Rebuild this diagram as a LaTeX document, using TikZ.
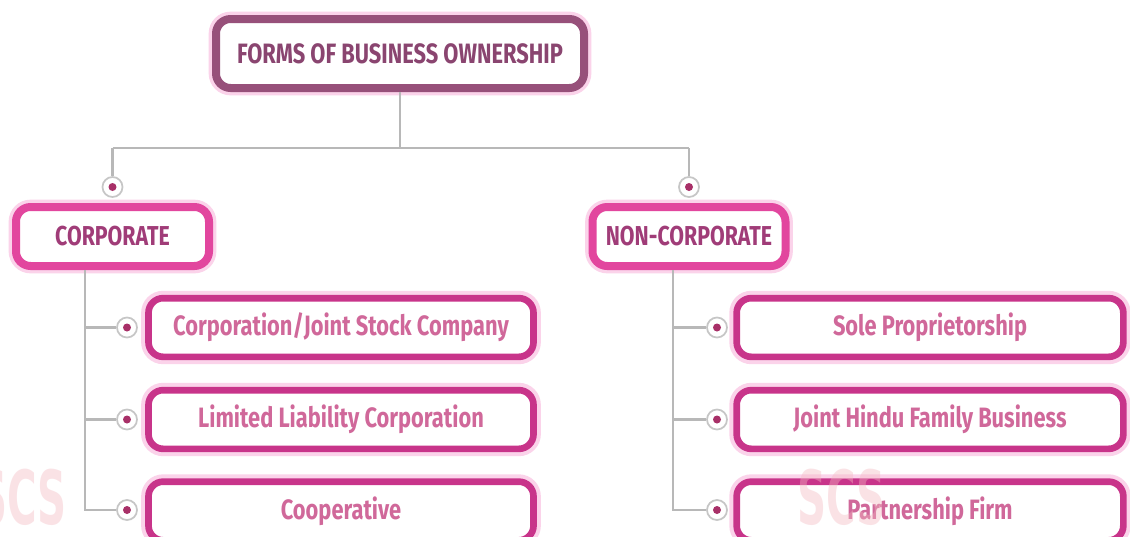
\documentclass[tikz,border=0pt]{standalone}
\usepackage{fontspec}
\newfontfamily\labelfont[FakeStretch=0.78]{Fira Sans Bold}
\newfontfamily\wmfont[FakeStretch=0.6]{DejaVu Sans Condensed Bold}
\definecolor{topborder}{HTML}{97507A}
\definecolor{toptext}{HTML}{8A4570}
\definecolor{midborder}{HTML}{E2469E}
\definecolor{midtext}{HTML}{A03C78}
\definecolor{leafborder}{HTML}{C8348A}
\definecolor{leaftext}{HTML}{D0689A}
\definecolor{glow}{HTML}{FBD3EA}
\definecolor{linegray}{HTML}{B8B8B8}
\definecolor{dotred}{HTML}{A83068}
\definecolor{wmpink}{HTML}{F4B8C0}
\tikzset{
  boxbase/.style={rounded corners=11pt, fill=white, align=center, inner sep=0pt},
  topbox/.style={boxbase, draw=topborder, line width=6pt, minimum width=276pt, minimum height=51.75pt,
     font=\labelfont\fontsize{21}{24}\selectfont, text=toptext},
  midbox/.style={boxbase, draw=midborder, line width=6pt, minimum width=144.75pt, minimum height=44.25pt,
     font=\labelfont\fontsize{20.5}{24}\selectfont, text=midtext},
  leafbox/.style={boxbase, draw=leafborder, line width=5pt, minimum width=288.75pt, minimum height=44pt,
     font=\labelfont\fontsize{21}{24}\selectfont, text=leaftext},
  glowbox/.style={preaction={draw=glow, line width=11pt, rounded corners=11pt}},
  conn/.style={draw=linegray, line width=1.6pt},
  ring/.style={circle, draw=linegray!80, line width=1.3pt, fill=white, minimum size=15pt, inner sep=0pt,
     path picture={\fill[dotred] (path picture bounding box.center) circle (3pt);}},
  wm/.style={font=\wmfont\fontsize{56}{56}\selectfont, text=wmpink, opacity=0.4, inner sep=0pt}
}
\begin{document}
\begin{tikzpicture}[x=0.75pt,y=-0.75pt]
\useasboundingbox (0,0) rectangle (1130,536);
\clip (0,0) rectangle (1130,536);
\fill[white] (0,0) rectangle (1130,536);

% boxes
\node[topbox, glowbox] (top) at (400,53.5) {FORMS OF BUSINESS OWNERSHIP};
\node[midbox, glowbox] (corp) at (112.5,236.5) {CORPORATE};
\node[midbox, glowbox] (noncorp) at (689,236.5) {NON-CORPORATE};

\node[leafbox, glowbox] (c1) at (341,327.5) {Corporation/Joint Stock Company};
\node[leafbox, glowbox] (c2) at (341,419.5) {Limited Liability Corporation};
\node[leafbox, glowbox] (c3) at (341,511) {Cooperative};

\node[leafbox, glowbox, minimum width=290pt] (n1) at (930,327.5) {Sole Proprietorship};
\node[leafbox, glowbox, minimum width=290pt] (n2) at (930,419.5) {Joint Hindu Family Business};
\node[leafbox, glowbox, minimum width=290pt] (n3) at (930,511) {Partnership Firm};

% rings
\node[ring] (rc) at (112.5,187) {};
\node[ring] (rn) at (689,187) {};
\node[ring] (r1) at (127,327.5) {};
\node[ring] (r2) at (127,419.5) {};
\node[ring] (r3) at (127,510) {};
\node[ring] (s1) at (717,327.5) {};
\node[ring] (s2) at (717,419.5) {};
\node[ring] (s3) at (717,510) {};

% junction coordinates
\coordinate (hj) at (400,148);
\coordinate (hl) at (112.5,148);
\coordinate (hr) at (689,148);
\coordinate (lv) at (85,270);
\coordinate (rv) at (673,270);

\draw[conn] (top.south) -- (hj);
\draw[conn] (hl) -- (hr);
\draw[conn] (hl) -- (rc.north);
\draw[conn] (hr) -- (rn.north);

\draw[conn] (lv) -- (lv |- r3) -- (r3.west);
\draw[conn] (lv |- r1) -- (r1.west);
\draw[conn] (lv |- r2) -- (r2.west);

\draw[conn] (rv) -- (rv |- s3) -- (s3.west);
\draw[conn] (rv |- s1) -- (s1.west);
\draw[conn] (rv |- s2) -- (s2.west);

% watermarks
\node[wm, anchor=west] (wml) at (-22,497) {SCS};
\node[wm, anchor=west] (wmr) at (797,497) {SCS};
\end{tikzpicture}
\end{document}
